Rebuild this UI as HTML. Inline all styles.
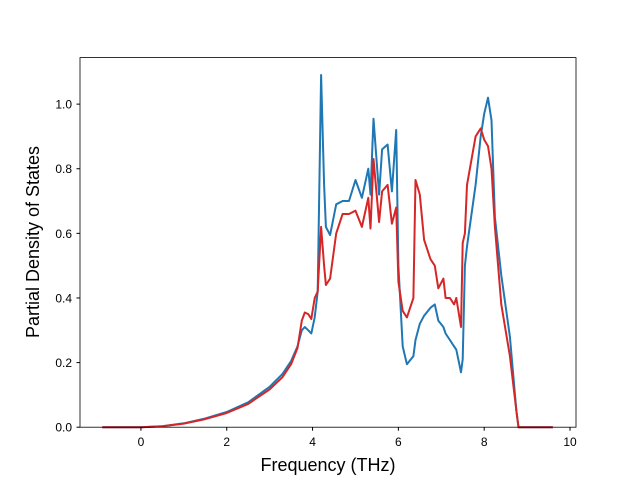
<!DOCTYPE html>
<html><head><meta charset="utf-8"><style>
body{margin:0;background:#fff;}
svg{display:block;font-family:"Liberation Sans","DejaVu Sans",sans-serif;}
</style></head><body>
<svg id="chart" width="640" height="480" viewBox="0 0 640 480">
<rect width="640" height="480" fill="#fff"/>
<g id="plot"></g>
<rect x="80" y="57.6" width="496" height="369.6" fill="none" stroke="#000" stroke-width="0.8"/>
<g id="ticks"></g>
<text x="328" y="471" font-size="18" text-anchor="middle">Frequency (THz)</text>
<text transform="translate(39,242) rotate(-90)" font-size="18" text-anchor="middle">Partial Density of States</text>
</svg>
<script>
const freqs=[-0.9,0,0.5,1.0,1.5,2.0,2.5,3.0,3.3,3.5,3.65,3.75,3.82,3.9,3.97,4.05,4.12,4.2,4.27,4.31,4.41,4.55,4.7,4.85,5.0,5.15,5.3,5.35,5.42,5.55,5.62,5.75,5.85,5.95,6.0,6.1,6.2,6.35,6.4,6.5,6.6,6.75,6.85,6.93,7.05,7.1,7.2,7.3,7.35,7.46,7.5,7.55,7.6,7.8,7.92,8.0,8.09,8.17,8.25,8.4,8.6,8.75,8.8,9.6];
const blueVals=[0,0,0.003,0.012,0.027,0.047,0.077,0.125,0.165,0.205,0.25,0.30,0.31,0.30,0.29,0.34,0.42,1.09,0.75,0.62,0.595,0.69,0.70,0.70,0.765,0.71,0.80,0.72,0.955,0.72,0.86,0.875,0.73,0.92,0.5,0.25,0.195,0.22,0.27,0.32,0.345,0.37,0.38,0.33,0.31,0.29,0.27,0.25,0.24,0.17,0.21,0.5,0.56,0.75,0.90,0.97,1.02,0.95,0.65,0.47,0.28,0.05,0,0];
const redVals=[0,0,0.003,0.011,0.025,0.044,0.072,0.117,0.155,0.195,0.245,0.33,0.355,0.35,0.335,0.40,0.42,0.62,0.50,0.44,0.46,0.60,0.66,0.66,0.67,0.62,0.71,0.615,0.83,0.635,0.73,0.75,0.63,0.68,0.45,0.36,0.34,0.40,0.765,0.72,0.58,0.52,0.50,0.43,0.46,0.40,0.40,0.38,0.40,0.31,0.57,0.60,0.75,0.90,0.925,0.89,0.87,0.80,0.62,0.38,0.22,0.05,0,0];
const xTicks=[0,2,4,6,8,10];
const yTicks=[0.0,0.2,0.4,0.6,0.8,1.0];
const xMin=-1.42,xMax=10.14,yMin=0,yMax=1.144;
const X=v=>80+(v-xMin)/(xMax-xMin)*496;
const Y=v=>427.2-(v-yMin)/(yMax-yMin)*369.6;
const NS="http://www.w3.org/2000/svg";
const plot=document.getElementById('plot'),ticks=document.getElementById('ticks');
function line(vals,color,name){
  const p=document.createElementNS(NS,'path');
  p.setAttribute('d',freqs.map((f,i)=>(i?'L':'M')+X(f).toFixed(1)+','+Y(vals[i]).toFixed(1)).join(''));
  p.setAttribute('fill','none');p.setAttribute('stroke',color);p.setAttribute('stroke-width','2');p.setAttribute('stroke-linejoin','round');
  
  
  plot.appendChild(p);
}
line(blueVals,'#1f77b4','blue-series-line');
line(redVals,'#d62728','red-series-line');
xTicks.forEach(t=>{
  const x=X(t);
  const l=document.createElementNS(NS,'line');
  l.setAttribute('x1',x);l.setAttribute('x2',x);l.setAttribute('y1',427.2);l.setAttribute('y2',430.7);l.setAttribute('stroke','#000');
  
  
  ticks.appendChild(l);
  const tx=document.createElementNS(NS,'text');
  tx.setAttribute('x',x);tx.setAttribute('y',446);tx.setAttribute('font-size','12');tx.setAttribute('text-anchor','middle');
  tx.textContent=t;
  
  
  ticks.appendChild(tx);
});
yTicks.forEach(t=>{
  const y=Y(t);
  const l=document.createElementNS(NS,'line');
  l.setAttribute('x1',76.5);l.setAttribute('x2',80);l.setAttribute('y1',y);l.setAttribute('y2',y);l.setAttribute('stroke','#000');
  
  
  ticks.appendChild(l);
  const tx=document.createElementNS(NS,'text');
  tx.setAttribute('x',72);tx.setAttribute('y',y+4.5);tx.setAttribute('font-size','12');tx.setAttribute('text-anchor','end');
  tx.textContent=t.toFixed(1);
  
  
  ticks.appendChild(tx);
});
</script>
</body></html>
